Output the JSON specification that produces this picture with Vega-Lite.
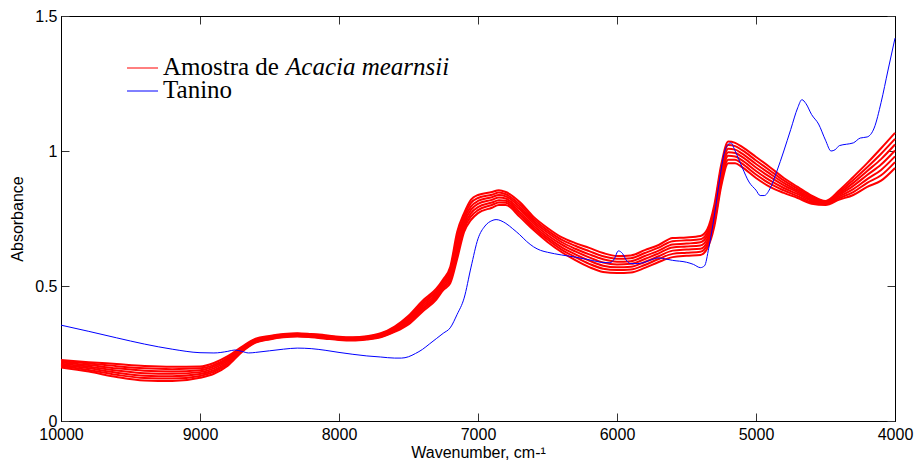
{
"$schema": "https://vega.github.io/schema/vega-lite/v6.json",
"width": 834, "height": 405,
"autosize": {"type": "none"},
"padding": {"left": 61, "top": 16, "right": 21, "bottom": 41},
"background": "white",
"config": {
 "view": {"stroke": "#000", "strokeWidth": 1},
 "axis": {"grid": false, "domainColor": "#000", "domainWidth": 1, "tickColor": "#333", "tickWidth": 1, "tickSize": -8,
  "labelFont": "Liberation Sans", "labelFontSize": 16, "labelColor": "#000",
  "titleFont": "Liberation Sans", "titleFontSize": 16, "titleFontWeight": "normal", "titleColor": "#000"}
},
"datasets": {
"red": [
{"s":1,"w":10000,"a":0.198},{"s":2,"w":10000,"a":0.203},{"s":3,"w":10000,"a":0.207},{"s":4,"w":10000,"a":0.212},{"s":5,"w":10000,"a":0.217},{"s":6,"w":10000,"a":0.221},{"s":7,"w":10000,"a":0.226},
{"s":1,"w":9800,"a":0.183},{"s":2,"w":9800,"a":0.189},{"s":3,"w":9800,"a":0.195},{"s":4,"w":9800,"a":0.201},{"s":5,"w":9800,"a":0.207},{"s":6,"w":9800,"a":0.213},{"s":7,"w":9800,"a":0.218},
{"s":1,"w":9600,"a":0.163},{"s":2,"w":9600,"a":0.171},{"s":3,"w":9600,"a":0.179},{"s":4,"w":9600,"a":0.187},{"s":5,"w":9600,"a":0.195},{"s":6,"w":9600,"a":0.203},{"s":7,"w":9600,"a":0.211},
{"s":1,"w":9400,"a":0.150},{"s":2,"w":9400,"a":0.159},{"s":3,"w":9400,"a":0.168},{"s":4,"w":9400,"a":0.177},{"s":5,"w":9400,"a":0.186},{"s":6,"w":9400,"a":0.195},{"s":7,"w":9400,"a":0.204},
{"s":1,"w":9200,"a":0.148},{"s":2,"w":9200,"a":0.157},{"s":3,"w":9200,"a":0.166},{"s":4,"w":9200,"a":0.175},{"s":5,"w":9200,"a":0.183},{"s":6,"w":9200,"a":0.192},{"s":7,"w":9200,"a":0.201},
{"s":1,"w":9000,"a":0.160},{"s":2,"w":9000,"a":0.167},{"s":3,"w":9000,"a":0.174},{"s":4,"w":9000,"a":0.181},{"s":5,"w":9000,"a":0.188},{"s":6,"w":9000,"a":0.195},{"s":7,"w":9000,"a":0.202},
{"s":1,"w":8900,"a":0.175},{"s":2,"w":8900,"a":0.182},{"s":3,"w":8900,"a":0.188},{"s":4,"w":8900,"a":0.195},{"s":5,"w":8900,"a":0.202},{"s":6,"w":8900,"a":0.208},{"s":7,"w":8900,"a":0.215},
{"s":1,"w":8800,"a":0.205},{"s":2,"w":8800,"a":0.211},{"s":3,"w":8800,"a":0.217},{"s":4,"w":8800,"a":0.223},{"s":5,"w":8800,"a":0.228},{"s":6,"w":8800,"a":0.234},{"s":7,"w":8800,"a":0.240},
{"s":1,"w":8700,"a":0.255},{"s":2,"w":8700,"a":0.258},{"s":3,"w":8700,"a":0.262},{"s":4,"w":8700,"a":0.265},{"s":5,"w":8700,"a":0.268},{"s":6,"w":8700,"a":0.272},{"s":7,"w":8700,"a":0.275},
{"s":1,"w":8600,"a":0.290},{"s":2,"w":8600,"a":0.292},{"s":3,"w":8600,"a":0.295},{"s":4,"w":8600,"a":0.297},{"s":5,"w":8600,"a":0.300},{"s":6,"w":8600,"a":0.302},{"s":7,"w":8600,"a":0.305},
{"s":1,"w":8500,"a":0.302},{"s":2,"w":8500,"a":0.304},{"s":3,"w":8500,"a":0.306},{"s":4,"w":8500,"a":0.308},{"s":5,"w":8500,"a":0.311},{"s":6,"w":8500,"a":0.313},{"s":7,"w":8500,"a":0.315},
{"s":1,"w":8400,"a":0.310},{"s":2,"w":8400,"a":0.312},{"s":3,"w":8400,"a":0.314},{"s":4,"w":8400,"a":0.316},{"s":5,"w":8400,"a":0.318},{"s":6,"w":8400,"a":0.320},{"s":7,"w":8400,"a":0.322},
{"s":1,"w":8300,"a":0.313},{"s":2,"w":8300,"a":0.315},{"s":3,"w":8300,"a":0.317},{"s":4,"w":8300,"a":0.319},{"s":5,"w":8300,"a":0.321},{"s":6,"w":8300,"a":0.323},{"s":7,"w":8300,"a":0.325},
{"s":1,"w":8200,"a":0.310},{"s":2,"w":8200,"a":0.312},{"s":3,"w":8200,"a":0.314},{"s":4,"w":8200,"a":0.316},{"s":5,"w":8200,"a":0.318},{"s":6,"w":8200,"a":0.320},{"s":7,"w":8200,"a":0.322},
{"s":1,"w":8100,"a":0.305},{"s":2,"w":8100,"a":0.307},{"s":3,"w":8100,"a":0.309},{"s":4,"w":8100,"a":0.311},{"s":5,"w":8100,"a":0.314},{"s":6,"w":8100,"a":0.316},{"s":7,"w":8100,"a":0.318},
{"s":1,"w":8000,"a":0.300},{"s":2,"w":8000,"a":0.302},{"s":3,"w":8000,"a":0.304},{"s":4,"w":8000,"a":0.306},{"s":5,"w":8000,"a":0.308},{"s":6,"w":8000,"a":0.310},{"s":7,"w":8000,"a":0.312},
{"s":1,"w":7900,"a":0.298},{"s":2,"w":7900,"a":0.300},{"s":3,"w":7900,"a":0.302},{"s":4,"w":7900,"a":0.304},{"s":5,"w":7900,"a":0.306},{"s":6,"w":7900,"a":0.308},{"s":7,"w":7900,"a":0.310},
{"s":1,"w":7800,"a":0.302},{"s":2,"w":7800,"a":0.304},{"s":3,"w":7800,"a":0.306},{"s":4,"w":7800,"a":0.308},{"s":5,"w":7800,"a":0.310},{"s":6,"w":7800,"a":0.312},{"s":7,"w":7800,"a":0.314},
{"s":1,"w":7700,"a":0.310},{"s":2,"w":7700,"a":0.312},{"s":3,"w":7700,"a":0.315},{"s":4,"w":7700,"a":0.317},{"s":5,"w":7700,"a":0.320},{"s":6,"w":7700,"a":0.322},{"s":7,"w":7700,"a":0.325},
{"s":1,"w":7600,"a":0.330},{"s":2,"w":7600,"a":0.333},{"s":3,"w":7600,"a":0.337},{"s":4,"w":7600,"a":0.340},{"s":5,"w":7600,"a":0.343},{"s":6,"w":7600,"a":0.347},{"s":7,"w":7600,"a":0.350},
{"s":1,"w":7500,"a":0.358},{"s":2,"w":7500,"a":0.363},{"s":3,"w":7500,"a":0.369},{"s":4,"w":7500,"a":0.374},{"s":5,"w":7500,"a":0.379},{"s":6,"w":7500,"a":0.385},{"s":7,"w":7500,"a":0.390},
{"s":1,"w":7400,"a":0.405},{"s":2,"w":7400,"a":0.412},{"s":3,"w":7400,"a":0.418},{"s":4,"w":7400,"a":0.425},{"s":5,"w":7400,"a":0.432},{"s":6,"w":7400,"a":0.438},{"s":7,"w":7400,"a":0.445},
{"s":1,"w":7300,"a":0.450},{"s":2,"w":7300,"a":0.457},{"s":3,"w":7300,"a":0.463},{"s":4,"w":7300,"a":0.470},{"s":5,"w":7300,"a":0.477},{"s":6,"w":7300,"a":0.483},{"s":7,"w":7300,"a":0.490},
{"s":1,"w":7250,"a":0.485},{"s":2,"w":7250,"a":0.492},{"s":3,"w":7250,"a":0.498},{"s":4,"w":7250,"a":0.505},{"s":5,"w":7250,"a":0.512},{"s":6,"w":7250,"a":0.518},{"s":7,"w":7250,"a":0.525},
{"s":1,"w":7200,"a":0.510},{"s":2,"w":7200,"a":0.520},{"s":3,"w":7200,"a":0.530},{"s":4,"w":7200,"a":0.540},{"s":5,"w":7200,"a":0.550},{"s":6,"w":7200,"a":0.560},{"s":7,"w":7200,"a":0.570},
{"s":1,"w":7150,"a":0.600},{"s":2,"w":7150,"a":0.617},{"s":3,"w":7150,"a":0.633},{"s":4,"w":7150,"a":0.650},{"s":5,"w":7150,"a":0.667},{"s":6,"w":7150,"a":0.683},{"s":7,"w":7150,"a":0.700},
{"s":1,"w":7100,"a":0.700},{"s":2,"w":7100,"a":0.712},{"s":3,"w":7100,"a":0.723},{"s":4,"w":7100,"a":0.735},{"s":5,"w":7100,"a":0.747},{"s":6,"w":7100,"a":0.758},{"s":7,"w":7100,"a":0.770},
{"s":1,"w":7050,"a":0.745},{"s":2,"w":7050,"a":0.758},{"s":3,"w":7050,"a":0.770},{"s":4,"w":7050,"a":0.783},{"s":5,"w":7050,"a":0.795},{"s":6,"w":7050,"a":0.808},{"s":7,"w":7050,"a":0.820},
{"s":1,"w":7000,"a":0.770},{"s":2,"w":7000,"a":0.781},{"s":3,"w":7000,"a":0.792},{"s":4,"w":7000,"a":0.804},{"s":5,"w":7000,"a":0.815},{"s":6,"w":7000,"a":0.826},{"s":7,"w":7000,"a":0.837},
{"s":1,"w":6900,"a":0.790},{"s":2,"w":6900,"a":0.800},{"s":3,"w":6900,"a":0.809},{"s":4,"w":6900,"a":0.819},{"s":5,"w":6900,"a":0.829},{"s":6,"w":6900,"a":0.838},{"s":7,"w":6900,"a":0.848},
{"s":1,"w":6850,"a":0.800},{"s":2,"w":6850,"a":0.809},{"s":3,"w":6850,"a":0.818},{"s":4,"w":6850,"a":0.828},{"s":5,"w":6850,"a":0.837},{"s":6,"w":6850,"a":0.846},{"s":7,"w":6850,"a":0.855},
{"s":1,"w":6800,"a":0.800},{"s":2,"w":6800,"a":0.808},{"s":3,"w":6800,"a":0.816},{"s":4,"w":6800,"a":0.824},{"s":5,"w":6800,"a":0.832},{"s":6,"w":6800,"a":0.840},{"s":7,"w":6800,"a":0.848},
{"s":1,"w":6700,"a":0.756},{"s":2,"w":6700,"a":0.765},{"s":3,"w":6700,"a":0.774},{"s":4,"w":6700,"a":0.784},{"s":5,"w":6700,"a":0.793},{"s":6,"w":6700,"a":0.802},{"s":7,"w":6700,"a":0.811},
{"s":1,"w":6600,"a":0.707},{"s":2,"w":6600,"a":0.715},{"s":3,"w":6600,"a":0.723},{"s":4,"w":6600,"a":0.732},{"s":5,"w":6600,"a":0.740},{"s":6,"w":6600,"a":0.748},{"s":7,"w":6600,"a":0.756},
{"s":1,"w":6500,"a":0.663},{"s":2,"w":6500,"a":0.672},{"s":3,"w":6500,"a":0.680},{"s":4,"w":6500,"a":0.689},{"s":5,"w":6500,"a":0.698},{"s":6,"w":6500,"a":0.706},{"s":7,"w":6500,"a":0.715},
{"s":1,"w":6400,"a":0.626},{"s":2,"w":6400,"a":0.635},{"s":3,"w":6400,"a":0.644},{"s":4,"w":6400,"a":0.654},{"s":5,"w":6400,"a":0.663},{"s":6,"w":6400,"a":0.672},{"s":7,"w":6400,"a":0.681},
{"s":1,"w":6300,"a":0.596},{"s":2,"w":6300,"a":0.607},{"s":3,"w":6300,"a":0.617},{"s":4,"w":6300,"a":0.628},{"s":5,"w":6300,"a":0.638},{"s":6,"w":6300,"a":0.649},{"s":7,"w":6300,"a":0.659},
{"s":1,"w":6200,"a":0.570},{"s":2,"w":6200,"a":0.582},{"s":3,"w":6200,"a":0.594},{"s":4,"w":6200,"a":0.606},{"s":5,"w":6200,"a":0.617},{"s":6,"w":6200,"a":0.629},{"s":7,"w":6200,"a":0.641},
{"s":1,"w":6100,"a":0.552},{"s":2,"w":6100,"a":0.564},{"s":3,"w":6100,"a":0.575},{"s":4,"w":6100,"a":0.587},{"s":5,"w":6100,"a":0.599},{"s":6,"w":6100,"a":0.610},{"s":7,"w":6100,"a":0.622},
{"s":1,"w":6000,"a":0.548},{"s":2,"w":6000,"a":0.559},{"s":3,"w":6000,"a":0.569},{"s":4,"w":6000,"a":0.580},{"s":5,"w":6000,"a":0.590},{"s":6,"w":6000,"a":0.601},{"s":7,"w":6000,"a":0.611},
{"s":1,"w":5900,"a":0.550},{"s":2,"w":5900,"a":0.561},{"s":3,"w":5900,"a":0.571},{"s":4,"w":5900,"a":0.582},{"s":5,"w":5900,"a":0.592},{"s":6,"w":5900,"a":0.603},{"s":7,"w":5900,"a":0.613},
{"s":1,"w":5800,"a":0.567},{"s":2,"w":5800,"a":0.578},{"s":3,"w":5800,"a":0.589},{"s":4,"w":5800,"a":0.600},{"s":5,"w":5800,"a":0.611},{"s":6,"w":5800,"a":0.622},{"s":7,"w":5800,"a":0.633},
{"s":1,"w":5700,"a":0.589},{"s":2,"w":5700,"a":0.600},{"s":3,"w":5700,"a":0.610},{"s":4,"w":5700,"a":0.621},{"s":5,"w":5700,"a":0.631},{"s":6,"w":5700,"a":0.642},{"s":7,"w":5700,"a":0.652},
{"s":1,"w":5600,"a":0.607},{"s":2,"w":5600,"a":0.619},{"s":3,"w":5600,"a":0.631},{"s":4,"w":5600,"a":0.643},{"s":5,"w":5600,"a":0.654},{"s":6,"w":5600,"a":0.666},{"s":7,"w":5600,"a":0.678},
{"s":1,"w":5500,"a":0.612},{"s":2,"w":5500,"a":0.623},{"s":3,"w":5500,"a":0.635},{"s":4,"w":5500,"a":0.646},{"s":5,"w":5500,"a":0.657},{"s":6,"w":5500,"a":0.669},{"s":7,"w":5500,"a":0.680},
{"s":1,"w":5400,"a":0.615},{"s":2,"w":5400,"a":0.627},{"s":3,"w":5400,"a":0.638},{"s":4,"w":5400,"a":0.650},{"s":5,"w":5400,"a":0.662},{"s":6,"w":5400,"a":0.673},{"s":7,"w":5400,"a":0.685},
{"s":1,"w":5350,"a":0.640},{"s":2,"w":5350,"a":0.652},{"s":3,"w":5350,"a":0.663},{"s":4,"w":5350,"a":0.675},{"s":5,"w":5350,"a":0.687},{"s":6,"w":5350,"a":0.698},{"s":7,"w":5350,"a":0.710},
{"s":1,"w":5300,"a":0.720},{"s":2,"w":5300,"a":0.733},{"s":3,"w":5300,"a":0.747},{"s":4,"w":5300,"a":0.760},{"s":5,"w":5300,"a":0.773},{"s":6,"w":5300,"a":0.787},{"s":7,"w":5300,"a":0.800},
{"s":1,"w":5250,"a":0.870},{"s":2,"w":5250,"a":0.883},{"s":3,"w":5250,"a":0.897},{"s":4,"w":5250,"a":0.910},{"s":5,"w":5250,"a":0.923},{"s":6,"w":5250,"a":0.937},{"s":7,"w":5250,"a":0.950},
{"s":1,"w":5200,"a":0.955},{"s":2,"w":5200,"a":0.968},{"s":3,"w":5200,"a":0.982},{"s":4,"w":5200,"a":0.995},{"s":5,"w":5200,"a":1.008},{"s":6,"w":5200,"a":1.022},{"s":7,"w":5200,"a":1.035},
{"s":1,"w":5150,"a":0.955},{"s":2,"w":5150,"a":0.968},{"s":3,"w":5150,"a":0.980},{"s":4,"w":5150,"a":0.993},{"s":5,"w":5150,"a":1.005},{"s":6,"w":5150,"a":1.018},{"s":7,"w":5150,"a":1.030},
{"s":1,"w":5100,"a":0.940},{"s":2,"w":5100,"a":0.953},{"s":3,"w":5100,"a":0.965},{"s":4,"w":5100,"a":0.978},{"s":5,"w":5100,"a":0.990},{"s":6,"w":5100,"a":1.003},{"s":7,"w":5100,"a":1.015},
{"s":1,"w":5000,"a":0.900},{"s":2,"w":5000,"a":0.913},{"s":3,"w":5000,"a":0.926},{"s":4,"w":5000,"a":0.939},{"s":5,"w":5000,"a":0.952},{"s":6,"w":5000,"a":0.965},{"s":7,"w":5000,"a":0.978},
{"s":1,"w":4900,"a":0.867},{"s":2,"w":4900,"a":0.879},{"s":3,"w":4900,"a":0.891},{"s":4,"w":4900,"a":0.904},{"s":5,"w":4900,"a":0.916},{"s":6,"w":4900,"a":0.928},{"s":7,"w":4900,"a":0.940},
{"s":1,"w":4800,"a":0.845},{"s":2,"w":4800,"a":0.854},{"s":3,"w":4800,"a":0.863},{"s":4,"w":4800,"a":0.873},{"s":5,"w":4800,"a":0.882},{"s":6,"w":4800,"a":0.891},{"s":7,"w":4800,"a":0.900},
{"s":1,"w":4700,"a":0.826},{"s":2,"w":4700,"a":0.833},{"s":3,"w":4700,"a":0.840},{"s":4,"w":4700,"a":0.847},{"s":5,"w":4700,"a":0.853},{"s":6,"w":4700,"a":0.860},{"s":7,"w":4700,"a":0.867},
{"s":1,"w":4600,"a":0.805},{"s":2,"w":4600,"a":0.810},{"s":3,"w":4600,"a":0.815},{"s":4,"w":4600,"a":0.820},{"s":5,"w":4600,"a":0.825},{"s":6,"w":4600,"a":0.830},{"s":7,"w":4600,"a":0.835},
{"s":1,"w":4500,"a":0.800},{"s":2,"w":4500,"a":0.803},{"s":3,"w":4500,"a":0.805},{"s":4,"w":4500,"a":0.808},{"s":5,"w":4500,"a":0.810},{"s":6,"w":4500,"a":0.813},{"s":7,"w":4500,"a":0.815},
{"s":1,"w":4400,"a":0.820},{"s":2,"w":4400,"a":0.826},{"s":3,"w":4400,"a":0.832},{"s":4,"w":4400,"a":0.838},{"s":5,"w":4400,"a":0.843},{"s":6,"w":4400,"a":0.849},{"s":7,"w":4400,"a":0.855},
{"s":1,"w":4300,"a":0.837},{"s":2,"w":4300,"a":0.848},{"s":3,"w":4300,"a":0.859},{"s":4,"w":4300,"a":0.871},{"s":5,"w":4300,"a":0.882},{"s":6,"w":4300,"a":0.893},{"s":7,"w":4300,"a":0.904},
{"s":1,"w":4200,"a":0.867},{"s":2,"w":4200,"a":0.882},{"s":3,"w":4200,"a":0.896},{"s":4,"w":4200,"a":0.911},{"s":5,"w":4200,"a":0.926},{"s":6,"w":4200,"a":0.940},{"s":7,"w":4200,"a":0.955},
{"s":1,"w":4100,"a":0.890},{"s":2,"w":4100,"a":0.910},{"s":3,"w":4100,"a":0.930},{"s":4,"w":4100,"a":0.950},{"s":5,"w":4100,"a":0.970},{"s":6,"w":4100,"a":0.990},{"s":7,"w":4100,"a":1.010},
{"s":1,"w":4000,"a":0.937},{"s":2,"w":4000,"a":0.959},{"s":3,"w":4000,"a":0.980},{"s":4,"w":4000,"a":1.002},{"s":5,"w":4000,"a":1.024},{"s":6,"w":4000,"a":1.045},{"s":7,"w":4000,"a":1.067}
],
"blue": [
{"w":10000,"a":0.355},{"w":9800,"a":0.332},{"w":9600,"a":0.308},{"w":9400,"a":0.285},{"w":9200,"a":0.266},{"w":9000,"a":0.253},{"w":8900,"a":0.252},{"w":8800,"a":0.258},{"w":8750,"a":0.263},{"w":8700,"a":0.258},{"w":8650,"a":0.252},{"w":8600,"a":0.254},{"w":8500,"a":0.260},{"w":8400,"a":0.266},{"w":8300,"a":0.270},{"w":8200,"a":0.268},{"w":8100,"a":0.262},{"w":8000,"a":0.254},{"w":7900,"a":0.247},{"w":7800,"a":0.241},{"w":7700,"a":0.237},{"w":7600,"a":0.233},{"w":7550,"a":0.233},{"w":7500,"a":0.238},{"w":7450,"a":0.250},{"w":7400,"a":0.265},{"w":7350,"a":0.285},{"w":7300,"a":0.305},{"w":7250,"a":0.325},{"w":7200,"a":0.345},{"w":7150,"a":0.395},{"w":7100,"a":0.455},{"w":7050,"a":0.570},{"w":7000,"a":0.675},{"w":6950,"a":0.722},{"w":6900,"a":0.742},{"w":6870,"a":0.746},{"w":6800,"a":0.732},{"w":6750,"a":0.712},{"w":6700,"a":0.690},{"w":6650,"a":0.665},{"w":6600,"a":0.645},{"w":6550,"a":0.632},{"w":6500,"a":0.625},{"w":6400,"a":0.615},{"w":6300,"a":0.607},{"w":6200,"a":0.597},{"w":6100,"a":0.587},{"w":6050,"a":0.586},{"w":6020,"a":0.600},{"w":5990,"a":0.630},{"w":5960,"a":0.620},{"w":5930,"a":0.593},{"w":5900,"a":0.583},{"w":5850,"a":0.583},{"w":5800,"a":0.588},{"w":5750,"a":0.598},{"w":5700,"a":0.604},{"w":5650,"a":0.600},{"w":5600,"a":0.595},{"w":5500,"a":0.588},{"w":5450,"a":0.580},{"w":5400,"a":0.568},{"w":5370,"a":0.575},{"w":5340,"a":0.640},{"w":5300,"a":0.760},{"w":5260,"a":0.900},{"w":5230,"a":0.990},{"w":5200,"a":1.025},{"w":5180,"a":1.030},{"w":5150,"a":1.000},{"w":5100,"a":0.940},{"w":5050,"a":0.885},{"w":5000,"a":0.855},{"w":4970,"a":0.835},{"w":4940,"a":0.835},{"w":4900,"a":0.860},{"w":4850,"a":0.925},{"w":4800,"a":1.000},{"w":4750,"a":1.080},{"w":4700,"a":1.160},{"w":4670,"a":1.190},{"w":4640,"a":1.175},{"w":4600,"a":1.135},{"w":4550,"a":1.100},{"w":4500,"a":1.040},{"w":4460,"a":1.000},{"w":4430,"a":1.005},{"w":4400,"a":1.020},{"w":4350,"a":1.025},{"w":4300,"a":1.030},{"w":4250,"a":1.048},{"w":4200,"a":1.052},{"w":4150,"a":1.085},{"w":4100,"a":1.180},{"w":4050,"a":1.300},{"w":4000,"a":1.418}
]
},
"layer": [
 {
  "data": {"name": "red"},
  "mark": {"type": "line", "color": "#ff0000", "strokeWidth": 2, "interpolate": "monotone"},
  "encoding": {
   "x": {"field": "w", "type": "quantitative", "scale": {"domain": [4000, 10000], "reverse": true, "nice": false, "zero": false},
    "axis": {"orient": "bottom", "values": [4000, 5000, 6000, 7000, 8000, 9000, 10000], "format": "d", "labelPadding": 13, "labelFlush": false, "title": "Wavenumber, cm-¹", "titlePadding": 2}},
   "y": {"field": "a", "type": "quantitative", "scale": {"domain": [0, 1.5], "nice": false},
    "axis": {"orient": "left", "values": [0, 0.5, 1, 1.5], "format": "~g", "labelPadding": 12, "labelFlush": false, "title": "Absorbance", "titlePadding": 9}},
   "detail": {"field": "s", "type": "nominal"},
   "order": {"field": "w", "sort": "descending"}
  }
 },
 {
  "data": {"name": "blue"},
  "mark": {"type": "line", "color": "#0000ff", "strokeWidth": 1, "interpolate": "monotone"},
  "encoding": {
   "x": {"field": "w", "type": "quantitative", "axis": {"orient": "top", "values": [4000, 5000, 6000, 7000, 8000, 9000, 10000], "labels": false, "title": null}},
   "y": {"field": "a", "type": "quantitative", "axis": {"orient": "right", "values": [0, 0.5, 1, 1.5], "labels": false, "title": null}},
   "order": {"field": "w", "sort": "descending"}
  }
 },
 {
  "data": {"values": [{}]},
  "mark": {"type": "rule", "color": "#ff0000", "strokeWidth": 1},
  "encoding": {"x": {"datum": 9525, "type": "quantitative", "axis": null}, "x2": {"datum": 9302}, "y": {"datum": 1.3074, "type": "quantitative", "axis": null}}
 },
 {
  "data": {"values": [{}]},
  "mark": {"type": "rule", "color": "#0000ff", "strokeWidth": 1},
  "encoding": {"x": {"datum": 9525, "type": "quantitative", "axis": null}, "x2": {"datum": 9302}, "y": {"datum": 1.2222, "type": "quantitative", "axis": null}}
 },
 {
  "data": {"values": [{}]},
  "mark": {"type": "text", "font": "Liberation Serif", "fontSize": 25, "align": "left", "baseline": "alphabetic", "dy": 7, "color": "#000"},
  "encoding": {"x": {"datum": 9266, "type": "quantitative", "axis": null}, "y": {"datum": 1.3074, "type": "quantitative", "axis": null}, "text": {"value": "Amostra de"}}
 },
 {
  "data": {"values": [{}]},
  "mark": {"type": "text", "font": "Liberation Serif", "fontSize": 25, "fontStyle": "italic", "align": "left", "baseline": "alphabetic", "dx": 123, "dy": 7, "color": "#000"},
  "encoding": {"x": {"datum": 9266, "type": "quantitative", "axis": null}, "y": {"datum": 1.3074, "type": "quantitative", "axis": null}, "text": {"value": "Acacia mearnsii"}}
 },
 {
  "data": {"values": [{}]},
  "mark": {"type": "text", "font": "Liberation Serif", "fontSize": 25, "align": "left", "baseline": "alphabetic", "dy": 7, "color": "#000"},
  "encoding": {"x": {"datum": 9266, "type": "quantitative", "axis": null}, "y": {"datum": 1.2222, "type": "quantitative", "axis": null}, "text": {"value": "Tanino"}}
 }
]
}
